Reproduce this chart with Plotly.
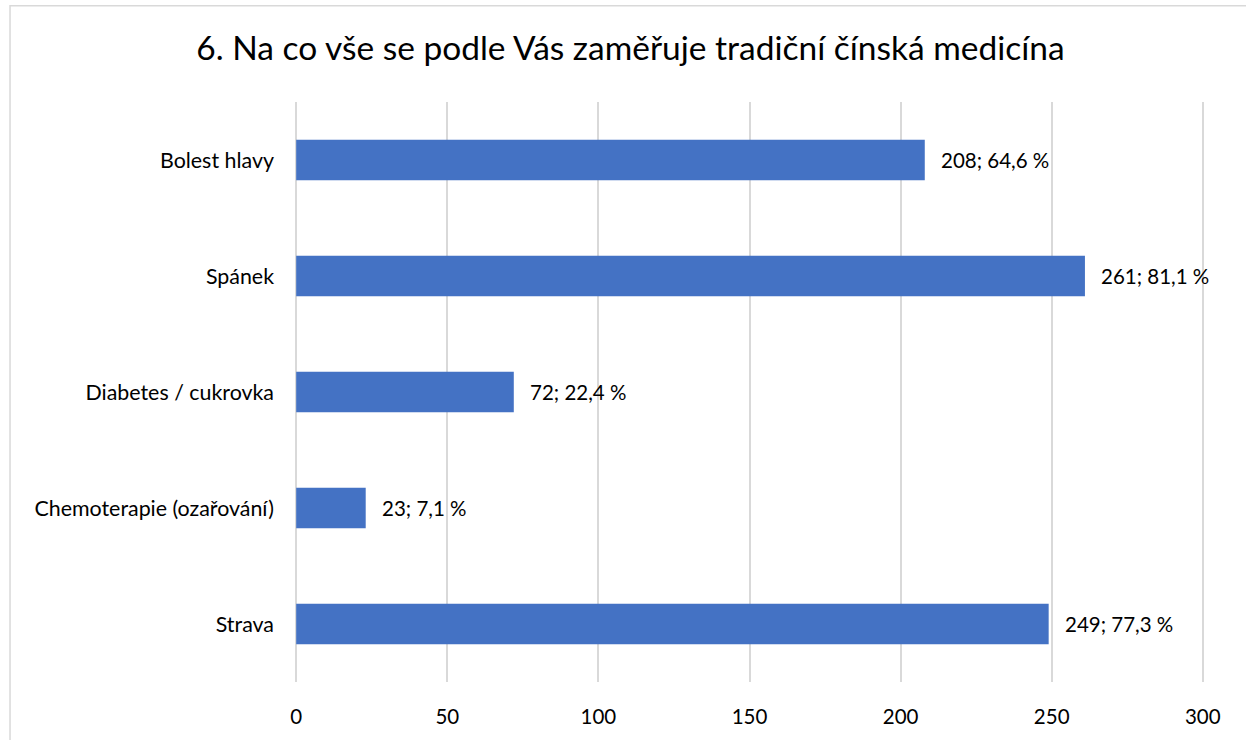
import plotly.graph_objects as go

categories = ["Bolest hlavy", "Spánek", "Diabetes / cukrovka", "Chemoterapie (ozařování)", "Strava"]
counts = [208, 261, 72, 23, 249]
percents = ["64,6", "81,1", "22,4", "7,1", "77,3"]
x_ticks = [0, 50, 100, 150, 200, 250, 300]

labels = [f"{c}; {p} %" for c, p in zip(counts, percents)]

FONT = "Lato, 'Noto Sans', sans-serif"

fig = go.Figure(go.Bar(
    x=counts, y=categories, orientation="h",
    marker=dict(color="#4472C4", line=dict(width=0)),
    width=0.35,
))

for c, cat, lab in zip(counts, categories, labels):
    fig.add_annotation(x=c, y=cat, text=lab, showarrow=False, xanchor="left",
                       xshift=14, font=dict(size=20.5, color="#000000", family=FONT))

fig.add_shape(type="rect", xref="paper", yref="paper", x0=-0.3135, x1=1.06, y0=-0.12, y1=1.166,
              line=dict(color="#d9d9d9", width=1.5), layer="below")

fig.update_layout(
    width=1246, height=740,
    margin=dict(l=295, r=42, t=102, b=55),
    paper_bgcolor="white", plot_bgcolor="white",
    title=dict(text="6. Na co vše se podle Vás zaměřuje tradiční čínská medicína",
               x=0.506, xanchor="center", y=0.935, yanchor="middle",
               font=dict(size=33.5, color="#000000", family=FONT)),
    showlegend=False,
    font=dict(family=FONT, size=20.5, color="#000000"),
    xaxis=dict(range=[-0.4, 300.4], tickvals=x_ticks, showgrid=True, gridcolor="#d9d9d9", gridwidth=1.5,
               zeroline=True, zerolinecolor="#d9d9d9", zerolinewidth=1.5,
               showline=False, ticks="", ticklabelstandoff=20,
               tickfont=dict(size=20.5, color="#000000")),
    yaxis=dict(categoryorder="array", categoryarray=categories[::-1], showgrid=False,
               zeroline=False, showline=False, ticks="", ticklabelstandoff=20,
               tickfont=dict(size=21.4, color="#000000")),
)

fig.write_html("out.html", config={"displayModeBar": False},
               post_script="document.body.style.margin='0';")
